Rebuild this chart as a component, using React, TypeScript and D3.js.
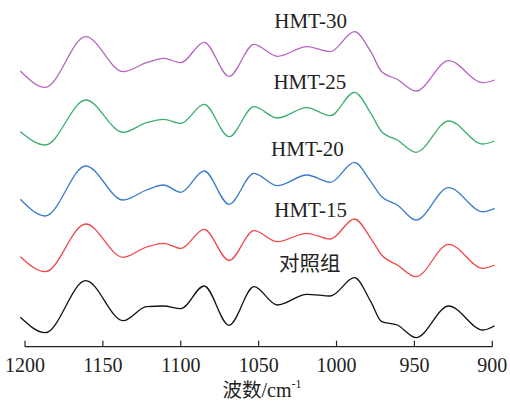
import React from "react";
import * as d3 from "d3";

// wavenumbers (cm-1) of the points
const wavenumbers = [1203, 1187, 1161, 1137, 1122, 1111, 1100, 1085, 1069, 1053, 1038, 1019, 1004, 988.5, 978, 971, 961, 949, 928, 906, 898.5];

// stacked, offset intensities (a.u.)
const control = [0.297, 0.143, 0.663, 0.263, 0.403, 0.41, 0.383, 0.61, 0.217, 0.603, 0.42, 0.527, 0.51, 0.693, 0.453, 0.253, 0.22, 0.093, 0.41, 0.17, 0.213];
const hmt15 = [0.903, 0.753, 1.23, 0.897, 1.0, 1.037, 0.987, 1.177, 0.865, 1.163, 1.053, 1.137, 1.08, 1.28, 1.087, 0.92, 0.82, 0.703, 1.027, 0.787, 0.82];
const hmt20 = [1.477, 1.31, 1.81, 1.47, 1.57, 1.62, 1.547, 1.76, 1.427, 1.737, 1.613, 1.72, 1.647, 1.847, 1.653, 1.503, 1.42, 1.27, 1.593, 1.353, 1.387];
const hmt25 = [2.153, 2.02, 2.47, 2.147, 2.243, 2.277, 2.237, 2.427, 2.103, 2.403, 2.29, 2.393, 2.313, 2.547, 2.337, 2.153, 2.07, 1.947, 2.26, 2.03, 2.06];
const hmt30 = [2.76, 2.597, 3.103, 2.753, 2.843, 2.887, 2.843, 3.047, 2.707, 3.027, 2.907, 3.003, 2.953, 3.153, 2.953, 2.753, 2.677, 2.56, 2.863, 2.643, 2.67];

const seriesNames = ["对照组", "HMT-15", "HMT-20", "HMT-25", "HMT-30"];
const seriesValues = [control, hmt15, hmt20, hmt25, hmt30];
const seriesColors = ["#111111", "#f0474a", "#3b7bcc", "#3cae6e", "#b565c0"];
// label anchor: wavenumber of left edge + intensity at baseline
const labelX = [1037, 1040, 1042, 1040.5, 1040];
const labelY = [0.765, 1.3, 1.91, 2.58, 3.19];

const xTicks = [1200, 1150, 1100, 1050, 1000, 950, 900];

const W = 510;
const H = 402;

export default function App() {
  const x = d3.scaleLinear().domain([1200, 900]).range([25, 492.3]);
  const y = d3.scaleLinear().domain([0, 3.3]).range([347, 17]);
  const axisY = 346.7;

  const line = d3
    .line<number>()
    .x((_, i) => x(wavenumbers[i]))
    .y((d) => y(d))
    .curve(d3.curveMonotoneX);

  const serif = "Liberation Serif, DejaVu Serif, serif";
  const cjk = "Noto Sans CJK SC, sans-serif";

  return (
    <div style={{ position: "absolute", left: 0, top: 0 }}>
      <svg width={W} height={H} style={{ display: "block", background: "#fff" }}>
        {seriesValues.map((vals, k) => (
          <path key={k} d={line(vals) || ""} fill="none" stroke={seriesColors[k]} strokeWidth={1.3} />
        ))}

        {seriesNames.map((name, k) => (
          <text
            key={name}
            x={x(labelX[k])}
            y={y(labelY[k])}
            fontFamily={k === 0 ? cjk : serif}
            fontSize={k === 0 ? 20.5 : 21}
            fill="#222"
          >
            {name}
          </text>
        ))}

        {/* x axis */}
        <line x1={x(1200)} x2={x(900)} y1={axisY} y2={axisY} stroke="#222" strokeWidth={1.2} />
        {xTicks.map((t) => (
          <g key={t}>
            <line x1={x(t)} x2={x(t)} y1={axisY} y2={axisY - 6} stroke="#222" strokeWidth={1.2} />
            <text x={x(t)} y={372} textAnchor="middle" fontFamily={serif} fontSize={20} fill="#222">
              {t}
            </text>
          </g>
        ))}
        <text x={222.5} y={397} fontFamily={serif} fontSize={20} fill="#222">
          <tspan fontFamily={cjk} fontSize={19.5}>波数</tspan>
          <tspan>/cm</tspan>
          <tspan fontSize={12} dy={-9}>-1</tspan>
        </text>
      </svg>
    </div>
  );
}
